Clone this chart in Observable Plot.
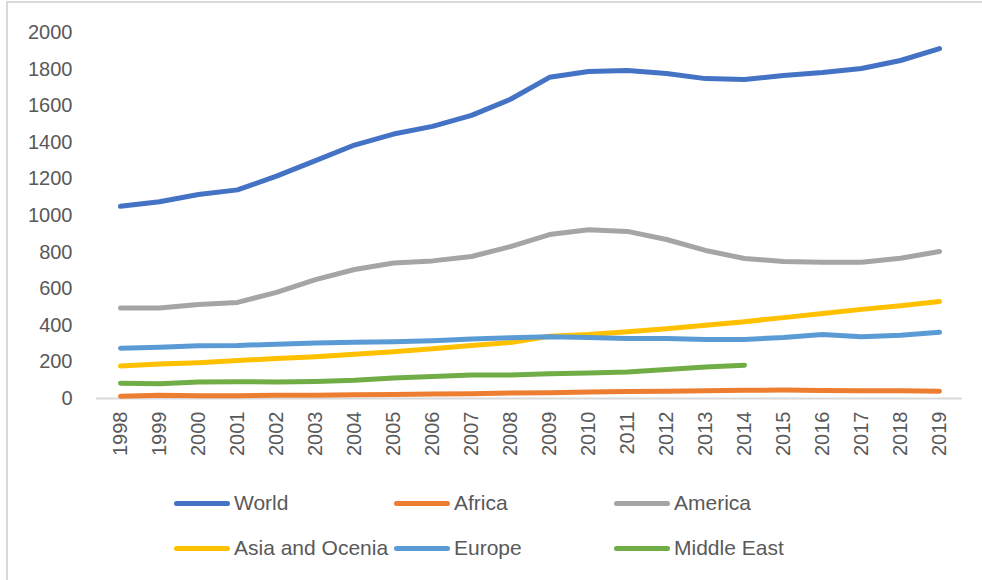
<!DOCTYPE html>
<html>
<head>
<meta charset="utf-8">
<script src="https://cdn.jsdelivr.net/npm/d3@7"></script>
<script src="https://cdn.jsdelivr.net/npm/@observablehq/plot@0.6"></script>
<style>
  html, body { margin: 0; padding: 0; background: #fff; }
  #wrap { position: relative; width: 982px; height: 580px; overflow: hidden; font-family: "Liberation Sans", Arial, sans-serif; }
  #frame { position: absolute; left: 6px; top: 1px; width: 1000px; height: 620px; border: 2px solid #d9d9d9; box-sizing: border-box; }
  #chart { position: absolute; left: 0; top: 0; }
  .leg { position: absolute; display: flex; align-items: center; font-size: 21px; color: #595959; white-space: nowrap; }
  .sw { width: 56px; height: 5px; border-radius: 3px; margin-right: 4px; }
</style>
</head>
<body>
<div id="wrap">
  <div id="frame"></div>
  <div id="chart"></div>
  <div id="legend"></div>
</div>
<script>
const years = [1998,1999,2000,2001,2002,2003,2004,2005,2006,2007,2008,2009,2010,2011,2012,2013,2014,2015,2016,2017,2018,2019];
const seriesNames = ["World","Africa","America","Asia and Ocenia","Europe","Middle East"];
const seriesColors = ["#4472C4","#ED7D31","#A5A5A5","#FFC000","#5B9BD5","#70AD47"];
const world = [1050,1075,1115,1140,1215,1300,1385,1445,1487,1547,1635,1755,1787,1792,1776,1748,1743,1765,1781,1803,1847,1912];
const africa = [12,18,15,15,18,18,20,22,24,26,30,32,35,38,40,42,45,46,44,43,42,40];
const america = [495,495,514,525,580,650,705,740,752,776,830,896,922,913,869,809,765,749,744,744,766,803];
const asiaOcenia = [177,188,196,208,218,228,242,256,272,290,306,340,350,365,381,400,420,442,465,487,507,530];
const europe = [275,280,288,290,297,303,307,310,316,325,332,338,333,328,328,322,323,333,350,338,345,362];
const middleEast = [84,80,90,92,90,93,100,112,120,128,128,135,140,145,158,172,182];
const yTicks = [0,200,400,600,800,1000,1200,1400,1600,1800,2000];

const allValues = [world, africa, america, asiaOcenia, europe, middleEast];
const data = [];
allValues.forEach((vals, i) => {
  vals.forEach((v, j) => data.push({series: seriesNames[i], year: years[j], value: v}));
});

const chart = Plot.plot({
  width: 982,
  height: 475,
  marginLeft: 96,
  marginRight: 20,
  marginTop: 32,
  marginBottom: 77,
  style: {fontFamily: "'Liberation Sans', Arial, sans-serif", fontSize: "20px", color: "#595959", background: "transparent"},
  x: {type: "point", domain: years, padding: 0.5, label: null, tickSize: 0, tickRotate: -90, tickPadding: 13, tickFormat: d => String(d)},
  y: {domain: [0, 2000], ticks: yTicks, label: null, tickSize: 0, tickPadding: 24, tickFormat: d => String(d)},
  color: {domain: seriesNames, range: seriesColors},
  marks: [
    Plot.ruleY([0], {stroke: "#d9d9d9", strokeWidth: 2}),
    Plot.line(data, {x: "year", y: "value", stroke: "series", z: "series", strokeWidth: 5, strokeLinecap: "round", strokeLinejoin: "round"})
  ]
});
document.getElementById("chart").appendChild(chart);

const legendPos = [[174, 503],[394, 503],[614, 503],[174, 548],[394, 548],[614, 548]];
const legend = document.getElementById("legend");
seriesNames.forEach((name, i) => {
  const d = document.createElement("div");
  d.className = "leg";
  d.style.left = legendPos[i][0] + "px";
  d.style.top = (legendPos[i][1] - 13) + "px";
  d.style.height = "26px";
  const sw = document.createElement("div");
  sw.className = "sw";
  sw.style.background = seriesColors[i];
  const t = document.createElement("span");
  t.textContent = name;
  d.appendChild(sw);
  d.appendChild(t);
  legend.appendChild(d);
});
</script>
</body>
</html>
